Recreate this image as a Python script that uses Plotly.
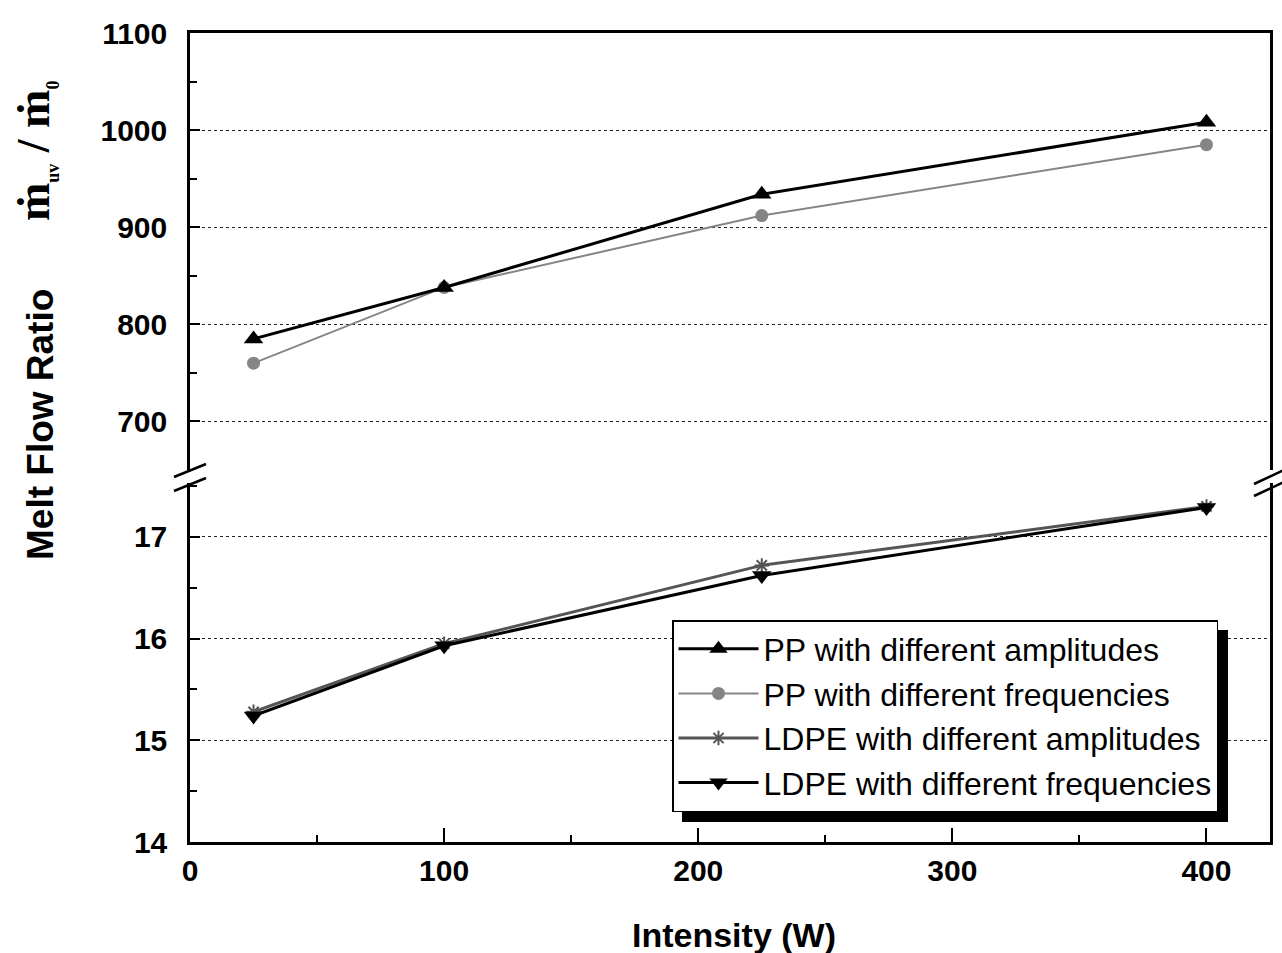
import plotly.graph_objects as go

# Melt flow ratio vs. ultrasonic intensity
intensity = [25, 100, 225, 400]
pp_amplitude = [785, 838, 934, 1008]
pp_frequency = [760, 838, 912, 985]
ldpe_amplitude = [15.28, 15.95, 16.72, 17.30]
ldpe_frequency = [15.24, 15.93, 16.62, 17.29]

W, H = 1282, 953
L, R, T, B = 190, 12, 33, 111
PW, PH = W - L - R, H - T - B


def fx(px):
    return (px - L) / PW


def fy(py):
    return (H - B - py) / PH


FONT = "Liberation Sans, Arial, sans-serif"
SERIF = "Liberation Serif, Times New Roman, serif"

fig = go.Figure()

fig.add_trace(go.Scatter(
    x=intensity, y=pp_frequency, xaxis="x2", yaxis="y2",
    name="PP with different frequencies", legendrank=2,
    mode="lines+markers",
    line=dict(color="#858585", width=2),
    marker=dict(symbol="circle", size=13, color="#858585"),
))
fig.add_trace(go.Scatter(
    x=intensity, y=pp_amplitude, xaxis="x2", yaxis="y2",
    name="PP with different amplitudes", legendrank=1,
    mode="lines+markers",
    line=dict(color="black", width=3),
    marker=dict(symbol="triangle-up", size=17, color="black"),
))
fig.add_trace(go.Scatter(
    x=intensity, y=ldpe_amplitude, xaxis="x", yaxis="y",
    name="LDPE with different amplitudes", legendrank=3,
    mode="lines+markers",
    line=dict(color="#555555", width=3),
    marker=dict(symbol="asterisk-open", size=12,
                line=dict(color="#555555", width=2)),
))
fig.add_trace(go.Scatter(
    x=intensity, y=ldpe_frequency, xaxis="x", yaxis="y",
    name="LDPE with different frequencies", legendrank=4,
    mode="lines+markers",
    line=dict(color="black", width=3),
    marker=dict(symbol="triangle-down", size=17, color="black"),
))

tickfont = dict(family=FONT, size=30, color="black", weight="bold")
axis_common = dict(
    showline=True, linecolor="black", linewidth=2.5,
    ticks="inside", tickcolor="black", tickwidth=2,
    tickfont=tickfont, zeroline=False, automargin=False,
)

lower_top = fy(483)
upper_bottom = fy(470)

fig.update_layout(
    width=W, height=H,
    margin=dict(l=L, r=R, t=T, b=B),
    paper_bgcolor="white", plot_bgcolor="white",
    showlegend=True,
    xaxis=dict(
        **axis_common, domain=[0, 1], anchor="y", range=[0, 425],
        tick0=0, dtick=100, ticklen=14, showgrid=False,
        minor=dict(dtick=50, ticklen=7, ticks="inside", tickcolor="black", tickwidth=2),
    ),
    xaxis2=dict(
        domain=[0, 1], anchor="y2", matches="x", side="top",
        showline=True, linecolor="black", linewidth=2.5,
        showticklabels=False, ticks="", showgrid=False, zeroline=False,
    ),
    yaxis=dict(
        **axis_common, domain=[0, lower_top], anchor="x", range=[14, 17.53],
        tick0=14, dtick=1, ticklen=10, mirror=True,
        showgrid=True, gridcolor="#222222", griddash="dot", gridwidth=1,
        minor=dict(dtick=0.5, ticklen=7, ticks="inside", tickcolor="black", tickwidth=2),
        ticklabelstandoff=14,
    ),
    yaxis2=dict(
        **axis_common, domain=[upper_bottom, 1], anchor="x2", range=[650, 1100],
        tick0=0, dtick=100, ticklen=10, mirror=True,
        showgrid=True, gridcolor="#222222", griddash="dot", gridwidth=1,
        minor=dict(dtick=50, ticklen=7, ticks="inside", tickcolor="black", tickwidth=2),
        ticklabelstandoff=14,
    ),
    legend=dict(
        x=fx(672), y=fy(620), xanchor="left", yanchor="top",
        bgcolor="white", bordercolor="black", borderwidth=1.5,
        font=dict(family=FONT, size=32, color="black"),
        itemwidth=80, tracegroupgap=0,
    ),
)

# axis titles
fig.add_annotation(
    xref="paper", yref="paper", x=fx(734), y=fy(935),
    xanchor="center", yanchor="middle",
    text="Intensity (W)", showarrow=False,
    font=dict(family=FONT, size=34, color="black", weight="bold"),
)
fig.add_annotation(
    xref="paper", yref="paper", x=fx(41), y=fy(425), textangle=-90,
    xanchor="center", yanchor="middle",
    text="Melt Flow Ratio", showarrow=False,
    font=dict(family=FONT, size=37, color="black", weight="bold"),
)
fig.add_annotation(
    xref="paper", yref="paper", x=fx(35), y=fy(151), textangle=-90,
    xanchor="center", yanchor="middle",
    text=("ṁ<sub><span style='font-size:18px'>uv</span></sub>"
          " / ṁ<sub><span style='font-size:18px'>0</span></sub>"),
    showarrow=False,
    font=dict(family=SERIF, size=46, color="black", weight="bold"),
)

shapes = []
# axis break marks on left and right edges
for (x0, y0, x1, y1) in [(174, 477, 206, 464), (174, 491, 206, 478),
                         (1254, 484, 1284, 470), (1254, 496, 1284, 482)]:
    shapes.append(dict(type="line", xref="paper", yref="paper",
                       x0=fx(x0), y0=fy(y0), x1=fx(x1), y1=fy(y1),
                       line=dict(color="black", width=2.5)))
# legend drop shadow
shapes.append(dict(type="rect", xref="paper", yref="paper",
                   x0=fx(682), x1=fx(1228), y0=fy(822), y1=fy(630),
                   fillcolor="black", line=dict(width=0), layer="above"))
fig.update_layout(shapes=shapes)

fig.write_html("out.html")
